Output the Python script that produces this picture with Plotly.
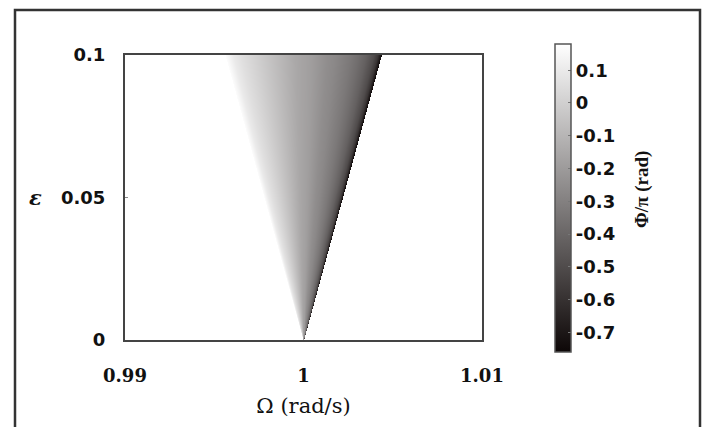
import numpy as np
import plotly.graph_objects as go

# ---- data ----
omega_ticks = [0.99, 1.0, 1.01]
omega_ticktext = ["0.99", "1", "1.01"]
eps_ticks = [0.0, 0.05, 0.1]
eps_ticktext = ["0", "0.05", "0.1"]
cbar_ticks = [0.1, 0.0, -0.1, -0.2, -0.3, -0.4, -0.5, -0.6, -0.7]
cbar_ticktext = ["0.1", "0", "-0.1", "-0.2", "-0.3", "-0.4", "-0.5", "-0.6", "-0.7"]

omega_range = [0.99, 1.01]
eps_range = [0.0, 0.1]
omega_center = 1.0
tongue_halfwidth_per_eps = 0.0436      # half-width of locking region / epsilon
# phase profile (Phi/pi) across the tongue, u = -1 (left edge) .. +1 (right edge)
profile_u = [-1.0, -0.9, -0.8, -0.7, -0.6, -0.5, -0.4, -0.3, -0.2, -0.1, 0.0,
             0.1, 0.2, 0.3, 0.4, 0.5, 0.6, 0.7, 0.8, 0.9, 0.95, 1.0]
profile_phase = [0.17, 0.10, 0.06, 0.03, 0.00, -0.03, -0.06, -0.09, -0.12, -0.15, -0.17,
                 -0.19, -0.22, -0.25, -0.27, -0.30, -0.33, -0.37, -0.42, -0.50, -0.58, -0.75]
phase_min, phase_max = -0.76, 0.18

# ---- grid ----
omega_grid = np.linspace(omega_range[0], omega_range[1], 715)
eps_grid = np.linspace(eps_range[0], eps_range[1], 286)
W, E = np.meshgrid(omega_grid, eps_grid)
with np.errstate(divide="ignore", invalid="ignore"):
    U = (W - omega_center) / (tongue_halfwidth_per_eps * E)
U = np.nan_to_num(U, nan=5.0, posinf=5.0, neginf=-5.0)
Z = np.where(np.abs(U) <= 1.0, np.interp(U, profile_u, profile_phase), np.nan)

# ---- layout geometry (pixels) ----
L, R, T, B = 125, 222, 55, 87
PW, PH = 704 - L - R, 427 - T - B

def px2x(px):
    return (px - L) / PW

def px2y(py):
    return (427 - B - py) / PH

fig = go.Figure()
fig.add_trace(go.Heatmap(
    x=omega_grid, y=eps_grid, z=Z,
    zmin=phase_min, zmax=phase_max, zsmooth=False,
    colorscale=[[0, "#0d0707"], [1, "#ffffff"]],
    hoverinfo="skip",
    colorbar=dict(
        x=px2x(555), xanchor="left", xref="paper", xpad=0, ypad=0,
        y=px2y(198), yanchor="middle",
        lenmode="pixels", len=308, thickness=16,
        outlinewidth=1.5, outlinecolor="#555555",
        tickmode="array", tickvals=cbar_ticks, ticktext=cbar_ticktext,
        ticks="inside", ticklen=3, tickcolor="#777777",
        tickfont=dict(family="DejaVu Sans", size=18, color="#111111", weight="bold"),
    ),
))

axis_font = dict(family="DejaVu Serif", size=18, color="#111111", weight="bold")
fig.update_xaxes(
    range=omega_range, tickmode="array", tickvals=omega_ticks, ticktext=omega_ticktext,
    showgrid=False, zeroline=False, showline=True, mirror=True, linewidth=2, linecolor="#444444",
    ticks="inside", ticklen=3, tickcolor="#888888", layer="below traces",
    tickfont=axis_font, ticklabelstandoff=18,
    title=dict(text="Ω (rad/s)", standoff=14,
               font=dict(family="DejaVu Serif", size=21, color="#111111")),
)
fig.update_yaxes(
    range=eps_range, tickmode="array", tickvals=eps_ticks, ticktext=eps_ticktext,
    showgrid=False, zeroline=False, showline=True, mirror=True, linewidth=2, linecolor="#444444",
    ticks="inside", ticklen=3, tickcolor="#888888",
    tickfont=dict(family="DejaVu Sans", size=18, color="#111111", weight="bold"),
    ticklabelstandoff=14,
)

fig.add_annotation(text="<i>ε</i>", xref="paper", yref="paper",
                   x=px2x(27), y=px2y(197), showarrow=False,
                   font=dict(family="DejaVu Serif", size=21, color="#111111", weight="bold"))

# colorbar title
fig.add_annotation(text="Φ/π (rad)", xref="paper", yref="paper",
                   x=px2x(655), y=px2y(190), showarrow=False, textangle=-90,
                   font=dict(family="Liberation Serif", size=19, color="#111111", weight="bold"))

# outer frame
fig.add_shape(type="rect", xref="paper", yref="paper",
              x0=px2x(15), x1=px2x(700), y0=px2y(460), y1=px2y(10),
              line=dict(color="#333333", width=2.5), fillcolor="rgba(0,0,0,0)", layer="above")

fig.update_layout(
    width=704, height=427,
    margin=dict(l=L, r=R, t=T, b=B, autoexpand=False),
    paper_bgcolor="white", plot_bgcolor="white",
    showlegend=False,
)
fig.write_html("out.html", config={"displayModeBar": False},
               post_script="document.body.style.margin='0px';")
